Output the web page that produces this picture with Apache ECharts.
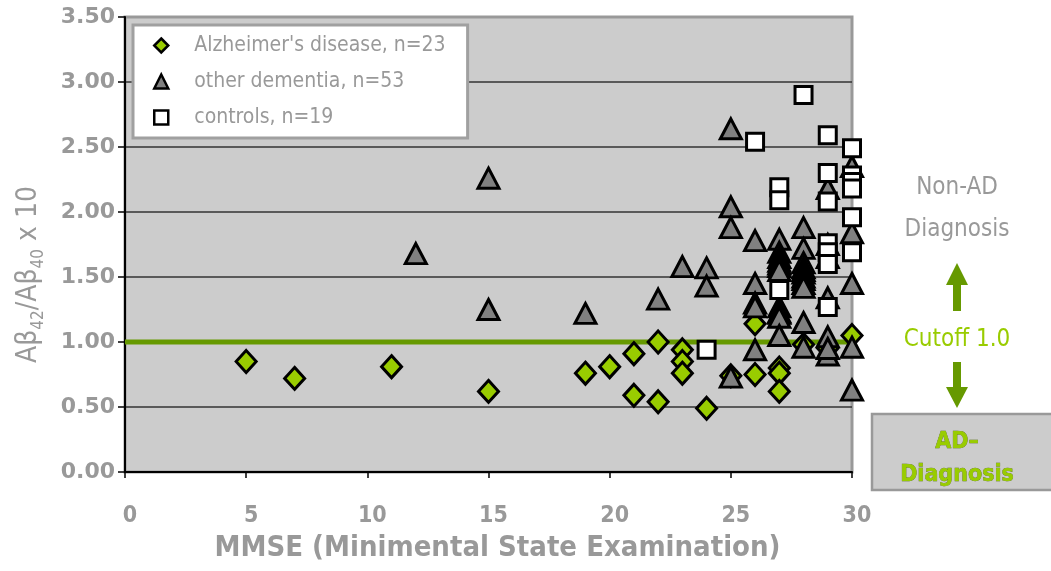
<!DOCTYPE html>
<html><head><meta charset="utf-8">
<script src="https://cdn.jsdelivr.net/npm/echarts@6/dist/echarts.min.js"></script>
<style>html,body{margin:0;padding:0;background:#fff}#c{width:1051px;height:571px}</style>
</head><body><div id="c"></div>
<script>
// Alzheimer's disease (diamonds)
const adMmse  = [5, 7, 11, 15, 19, 20, 21, 21, 22, 22, 23, 23, 23, 24, 25, 26, 26, 27, 27, 27, 28, 29, 30];
const adRatio = [0.85, 0.72, 0.81, 0.62, 0.76, 0.81, 0.91, 0.59, 1.00, 0.54, 0.94, 0.85, 0.76, 0.49, 0.74, 1.14, 0.75, 0.80, 0.76, 0.62, 0.98, 0.95, 1.05];
// other dementia (triangles)
const odMmse  = [12, 15, 15, 19, 22, 23, 24, 24, 25, 25, 25, 25, 26, 26, 26, 26, 26,
                 27, 27, 27, 27, 27, 27, 27, 27, 27, 27, 27, 27,
                 28, 28, 28, 28, 28, 28, 28, 28, 28, 28, 28, 28,
                 29, 29, 29, 29, 29, 29, 30, 30, 30, 30, 30, 29];
const odRatio = [1.68, 2.26, 1.25, 1.22, 1.33, 1.58, 1.57, 1.43, 2.64, 2.04, 1.88, 0.73, 1.78, 1.45, 1.30, 1.27, 0.94,
                 1.79, 1.69, 1.65, 1.62, 1.60, 1.58, 1.55, 1.27, 1.23, 1.22, 1.19, 1.05,
                 1.88, 1.72, 1.61, 1.57, 1.55, 1.53, 1.50, 1.48, 1.45, 1.42, 1.15, 0.96,
                 2.18, 1.75, 1.65, 1.34, 1.04, 0.90, 2.35, 1.84, 1.45, 0.96, 0.63, 0.95];
// controls (squares)
const ctMmse  = [24, 26, 27, 27, 27, 28, 29, 29, 29, 29, 29, 29, 29, 30, 30, 30, 30, 30, 30];
const ctRatio = [0.94, 2.54, 2.19, 2.09, 1.40, 2.90, 2.59, 2.30, 2.08, 1.76, 1.69, 1.60, 1.27, 2.49, 2.28, 2.23, 2.18, 1.96, 1.69];
// cutoff line
const cutoffX = [0, 30];
const cutoffY = [1.0, 1.0];
// axis ticks
const xTicks = [0, 5, 10, 15, 20, 25, 30];
const yTicks = [0, 0.5, 1.0, 1.5, 2.0, 2.5, 3.0, 3.5];
const seriesNames = ["Alzheimer's disease, n=23", 'other dementia, n=53', 'controls, n=19'];

const zip = (a, b) => a.map((v, i) => [v, b[i]]);
const FONT = 'DejaVu Sans Condensed';
const GRAY = '#999999';

const chart = echarts.init(document.getElementById('c'), null, {renderer: 'canvas'});
chart.setOption({
  backgroundColor: '#ffffff',
  animation: false,
  grid: {left: 125, right: 199, top: 17, bottom: 99, show: true,
         backgroundColor: '#cccccc', borderColor: '#999999', borderWidth: 3},
  legend: {
    data: seriesNames, orient: 'vertical', left: 133, top: 25,
    backgroundColor: '#ffffff', borderColor: '#a0a0a0', borderWidth: 3,
    padding: [10, 22, 10, 20], itemGap: 15, itemWidth: 14, itemHeight: 14,
    itemStyle: {borderWidth: 2.5, borderColor: '#000'},
    textStyle: {color: GRAY, fontSize: 21, fontFamily: FONT, padding: [0, 0, 0, 21]}
  },
  xAxis: {
    type: 'value', min: xTicks[0], max: xTicks[xTicks.length - 1], interval: 5,
    name: 'MMSE (Minimental State Examination)', nameLocation: 'middle', nameGap: 62,
    nameTextStyle: {color: GRAY, fontSize: 29, fontWeight: 'bold', fontFamily: FONT, padding: [0, 0, 0, 18]},
    axisLine: {show: true, lineStyle: {color: '#000', width: 2}},
    axisTick: {show: true, length: 6, lineStyle: {color: '#000', width: 1.5}},
    axisLabel: {color: GRAY, fontSize: 23, fontWeight: 'bold', fontFamily: FONT, margin: 33, padding: [0, 0, 0, 10]},
    splitLine: {show: false}
  },
  yAxis: {
    type: 'value', min: yTicks[0], max: yTicks[yTicks.length - 1], interval: 0.5,
    name: '{a|Aβ}{s|42}{a|/Aβ}{s|40}{a| x 10}', nameLocation: 'middle', nameGap: 82,
    nameTextStyle: {color: GRAY, fontFamily: FONT, padding: [0, 60, 0, 0],
      rich: {
        a: {fontSize: 28, color: GRAY, fontFamily: FONT, lineHeight: 28},
        s: {fontSize: 17, color: GRAY, fontFamily: FONT, lineHeight: 17, padding: [20, 0, 0, 0]}
      }},
    axisLine: {show: true, lineStyle: {color: '#000', width: 2}},
    axisTick: {show: true, length: 7, lineStyle: {color: '#000', width: 1.5}},
    axisLabel: {color: GRAY, fontSize: 22, fontWeight: 'bold', fontFamily: 'DejaVu Sans', margin: 10,
                formatter: v => v.toFixed(2)},
    splitLine: {show: true, showMaxLine: false, showMinLine: false, lineStyle: {color: '#333333', width: 1.5}}
  },
  series: [
    {type: 'line', name: 'cutoff', data: zip(cutoffX, cutoffY), symbol: 'none', silent: true,
     lineStyle: {color: '#669900', width: 5}, z: 1},
    {type: 'scatter', name: seriesNames[0], data: zip(adMmse, adRatio), symbol: 'diamond', symbolSize: [20, 22],
     itemStyle: {color: '#99cc00', borderColor: '#000', borderWidth: 3, opacity: 1}, z: 2},
    {type: 'scatter', name: seriesNames[1], data: zip(odMmse, odRatio), symbol: 'triangle', symbolSize: [21, 20],
     itemStyle: {color: '#808080', borderColor: '#000', borderWidth: 3, opacity: 1}, z: 3},
    {type: 'scatter', name: seriesNames[2], data: zip(ctMmse, ctRatio), symbol: 'rect', symbolSize: [17, 17],
     itemStyle: {color: '#ffffff', borderColor: '#000', borderWidth: 3, opacity: 1}, z: 4}
  ],
  graphic: [
    {type: 'text', x: 957, y: 188, style: {text: 'Non-AD', fill: GRAY, font: '24px "DejaVu Sans Condensed"', align: 'center', verticalAlign: 'middle'}},
    {type: 'text', x: 957, y: 230, style: {text: 'Diagnosis', fill: GRAY, font: '24px "DejaVu Sans Condensed"', align: 'center', verticalAlign: 'middle'}},
    {type: 'polygon', shape: {points: [[957,263],[968,285],[961,285],[961,311],[953,311],[953,285],[946,285]]}, style: {fill: '#669900'}},
    {type: 'text', x: 957, y: 340, style: {text: 'Cutoff 1.0', fill: '#99cc00', font: '24px "DejaVu Sans Condensed"', align: 'center', verticalAlign: 'middle'}},
    {type: 'polygon', shape: {points: [[953,362],[961,362],[961,387],[968,387],[957,408],[946,387],[953,387]]}, style: {fill: '#669900'}},
    {type: 'rect', shape: {x: 872, y: 414, width: 190, height: 76}, style: {fill: '#cccccc', stroke: '#999999', lineWidth: 2.5}},
    {type: 'text', x: 957, y: 442, style: {text: 'AD–', fill: '#99cc00', font: 'bold 23px "DejaVu Sans Condensed"', align: 'center', verticalAlign: 'middle', stroke: '#4d6600', lineWidth: 0.5}},
    {type: 'text', x: 957, y: 475, style: {text: 'Diagnosis', fill: '#99cc00', font: 'bold 23px "DejaVu Sans Condensed"', align: 'center', verticalAlign: 'middle', stroke: '#4d6600', lineWidth: 0.5}}
  ]
});
</script></body></html>
